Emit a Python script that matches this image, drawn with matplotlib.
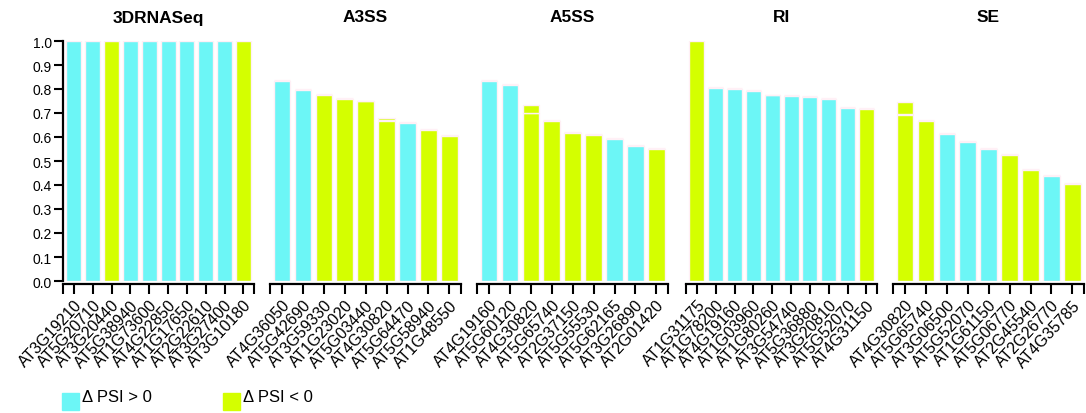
import numpy as np
import matplotlib
matplotlib.use('Agg')
import matplotlib.pyplot as plt
from matplotlib.patches import Rectangle

plt.rcParams['font.family'] = ['Liberation Sans', 'DejaVu Sans']

# --- data ---
titles = ['3DRNASeq', 'A3SS', 'A5SS', 'RI', 'SE']

genes_3d = ['AT3G19210', 'AT5G20710', 'AT3G20440', 'AT5G38940', 'AT1G73600',
            'AT4G22850', 'AT1G17650', 'AT2G22610', 'AT3G27400', 'AT3G10180']
psi_3d = [1.0, 1.0, 1.0, 1.0, 1.0, 1.0, 1.0, 1.0, 1.0, 1.0]
up_3d = [1, 1, 0, 1, 1, 1, 1, 1, 1, 0]
extra_3d = [0, 0, 0, 0, 0, 0, 0, 0, 0, 0]

genes_a3 = ['AT4G36050', 'AT5G42690', 'AT3G59330', 'AT1G23020', 'AT5G03440',
            'AT4G30820', 'AT5G64470', 'AT5G58940', 'AT1G48550']
psi_a3 = [0.835, 0.795, 0.775, 0.758, 0.748, 0.668, 0.657, 0.628, 0.603]
up_a3 = [1, 1, 0, 0, 0, 0, 1, 0, 0]
extra_a3 = [0, 0, 0, 0, 0, 0.006, 0, 0, 0]

genes_a5 = ['AT4G19160', 'AT5G60120', 'AT4G30820', 'AT5G65740', 'AT2G37150',
            'AT5G55530', 'AT5G62165', 'AT3G26890', 'AT2G01420']
psi_a5 = [0.835, 0.815, 0.698, 0.667, 0.618, 0.610, 0.593, 0.561, 0.550]
up_a5 = [1, 1, 0, 0, 0, 0, 1, 1, 0]
extra_a5 = [0, 0, 0.03, 0, 0, 0, 0, 0, 0]

genes_ri = ['AT1G31175', 'AT1G78200', 'AT4G19160', 'AT1G03960', 'AT1G80260',
            'AT3G54740', 'AT5G36880', 'AT3G20810', 'AT5G52070', 'AT4G31150']
psi_ri = [1.0, 0.804, 0.799, 0.793, 0.773, 0.770, 0.766, 0.758, 0.722, 0.715]
up_ri = [0, 1, 1, 1, 1, 1, 1, 1, 1, 0]
extra_ri = [0, 0, 0, 0, 0, 0, 0, 0, 0, 0]

genes_se = ['AT4G30820', 'AT5G65740', 'AT3G06500', 'AT5G52070', 'AT1G61150',
            'AT5G06770', 'AT2G45540', 'AT2G26770', 'AT4G35785']
psi_se = [0.692, 0.667, 0.614, 0.580, 0.549, 0.526, 0.463, 0.438, 0.405]
up_se = [0, 0, 1, 1, 1, 0, 0, 1, 0]
extra_se = [0.05, 0, 0, 0, 0, 0, 0, 0, 0]

all_genes = [genes_3d, genes_a3, genes_a5, genes_ri, genes_se]
all_psi = [psi_3d, psi_a3, psi_a5, psi_ri, psi_se]
all_up = [up_3d, up_a3, up_a5, up_ri, up_se]
all_extra = [extra_3d, extra_a3, extra_a5, extra_ri, extra_se]

CYAN = '#6cf6f6'
LIME = '#d4ff00'
EDGE = '#fff0f6'

W, H = 1086, 414
fig = plt.figure(figsize=(W / 100, H / 100), dpi=100)

lefts = [63, 270, 477, 686, 893]
pw = 191
top_px, bot_px = 42, 282

for k in range(5):
    ax = fig.add_axes([lefts[k] / W, 1 - bot_px / H, pw / W, (bot_px - top_px) / H])
    # spine position first: it resets the ticks
    ax.spines['bottom'].set_position(('outward', 2.5))
    ax.spines['bottom'].set_linewidth(1.6)
    ax.spines['top'].set_visible(False)
    ax.spines['right'].set_visible(False)

    n = len(all_genes[k])
    x = np.arange(n)
    cols = [CYAN if u else LIME for u in all_up[k]]
    ax.bar(x, all_psi[k], width=0.8, color=cols, edgecolor=EDGE, linewidth=1.0)
    ax.bar(x, all_extra[k], width=0.8, bottom=np.array(all_psi[k]) + 0.004,
           color=cols, edgecolor=EDGE, linewidth=1.0)
    xmin, xmax = -0.58, n - 0.44
    ax.set_xlim(xmin, xmax)
    ax.set_ylim(0, 1.0)
    ax.set_xticks([xmin] + list(x) + [xmax])
    ax.set_xticklabels([''] + all_genes[k] + [''], fontsize=11.5)
    ax.tick_params(axis='x', length=7, width=1.5, pad=2, labelrotation=47)
    plt.setp(ax.get_xticklabels(), ha='right', va='top', rotation_mode='anchor')
    if k == 0:
        ax.set_yticks(np.arange(0, 1.01, 0.1))
        ax.set_yticklabels(['%.1f' % v for v in np.arange(0, 1.01, 0.1)], fontsize=10)
        ax.tick_params(axis='y', length=6.5, width=1.5, pad=1.5)
        ax.spines['left'].set_linewidth(1.6)
    else:
        ax.spines['left'].set_visible(False)
        ax.set_yticks([])
    fig.text((lefts[k] + pw / 2) / W, 1 - 18 / H, titles[k], ha='center',
             va='center', fontsize=12.5, fontweight='bold')

# legend
for sx, col, lab in [(62, CYAN, '\u0394 PSI > 0'), (223, LIME, '\u0394 PSI < 0')]:
    fig.patches.append(Rectangle((sx / W, 1 - 411 / H), 17 / W, 17 / H,
                                 transform=fig.transFigure, color=col))
    fig.text((sx + 20) / W, 1 - 398 / H, lab, ha='left', va='center', fontsize=12)

fig.savefig('out.png', dpi=100)
